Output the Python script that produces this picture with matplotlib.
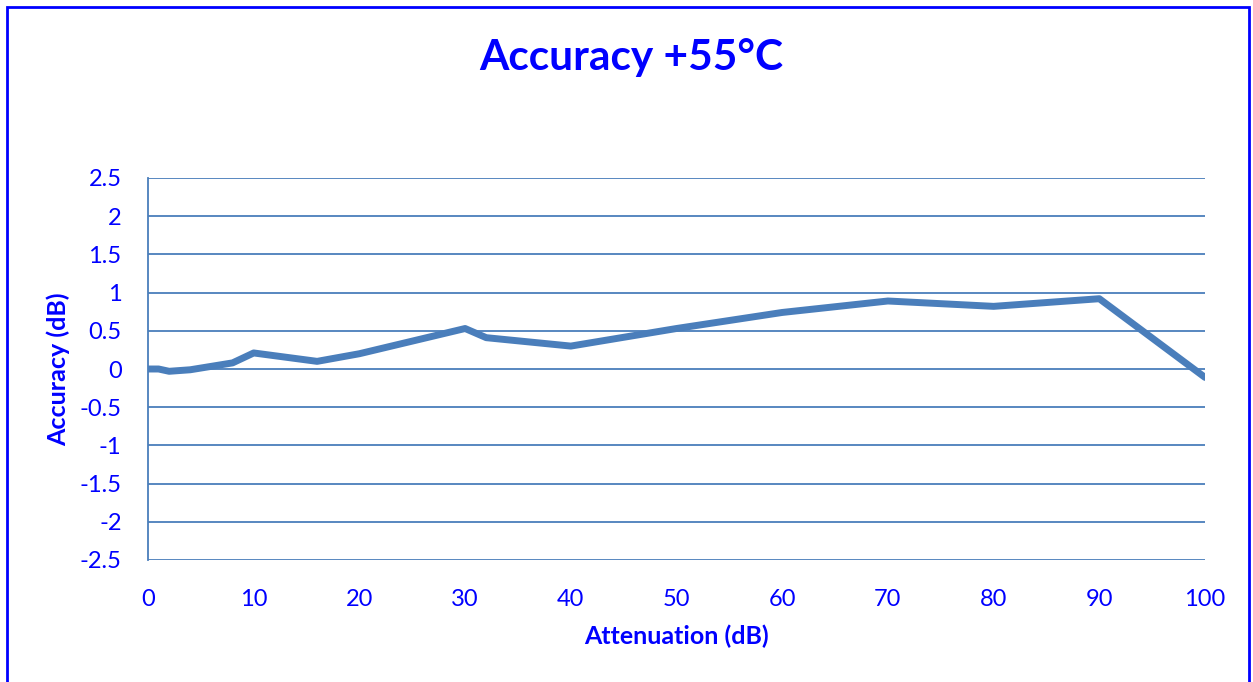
import matplotlib.pyplot as plt
from matplotlib.patches import Rectangle

# attenuation setting (dB) vs measured accuracy (dB)
attenuation = [0, 1, 2, 4, 8, 10, 16, 20, 30, 32, 40, 50, 60, 70, 80, 90, 100]
accuracy = [0.0, 0.0, -0.03, -0.01, 0.08, 0.21, 0.10, 0.20, 0.53, 0.41, 0.30, 0.53, 0.74, 0.89, 0.82, 0.92, -0.11]

x_ticks = list(range(0, 101, 10))
y_ticks = [-2.5, -2, -1.5, -1, -0.5, 0, 0.5, 1, 1.5, 2, 2.5]
y_labels = ['-2.5', '-2', '-1.5', '-1', '-0.5', '0', '0.5', '1', '1.5', '2', '2.5']

blue = '#0000FF'
line_col = '#4A7EBB'

plt.rcParams['font.family'] = ['Lato', 'DejaVu Sans']

fig = plt.figure(figsize=(12.53, 6.82), dpi=100)
ax = fig.add_axes([148/1253, 1 - 560/682, (1205-148)/1253, (560-178)/682])

# outer chart frame
fig.patches.append(Rectangle((7/1253, -0.05), (1249-7)/1253, 1.05 - 7/682,
                             transform=fig.transFigure, fill=False,
                             edgecolor=blue, linewidth=2, clip_on=False))

ax.plot(attenuation, accuracy, color=line_col, linewidth=5, solid_joinstyle='round',
        solid_capstyle='round', zorder=3)

ax.set_xlim(0, 100)
ax.set_ylim(-2.5, 2.5)
ax.set_xticks(x_ticks)
ax.set_yticks(y_ticks)
ax.set_yticklabels(y_labels)
ax.grid(axis='y', color=line_col, linewidth=1.3)
ax.set_axisbelow(True)
for s in ['top', 'right', 'bottom']:
    ax.spines[s].set_visible(False)
ax.spines['left'].set_color(line_col)
ax.spines['left'].set_linewidth(1.3)
ax.tick_params(length=0, labelsize=17, labelcolor=blue)
ax.tick_params(axis='x', pad=21)
ax.tick_params(axis='y', pad=19)

ax.set_xlabel('Attenuation (dB)', fontsize=18, fontweight='bold', color=blue, labelpad=10)
ax.set_ylabel('Accuracy (dB)', fontsize=18, fontweight='bold', color=blue, labelpad=7)

fig.text(631/1253, 1 - 58/682, 'Accuracy +55°C', ha='center', va='center',
         fontsize=30.5, fontweight='bold', color=blue)

fig.savefig('out.png', dpi=100)
